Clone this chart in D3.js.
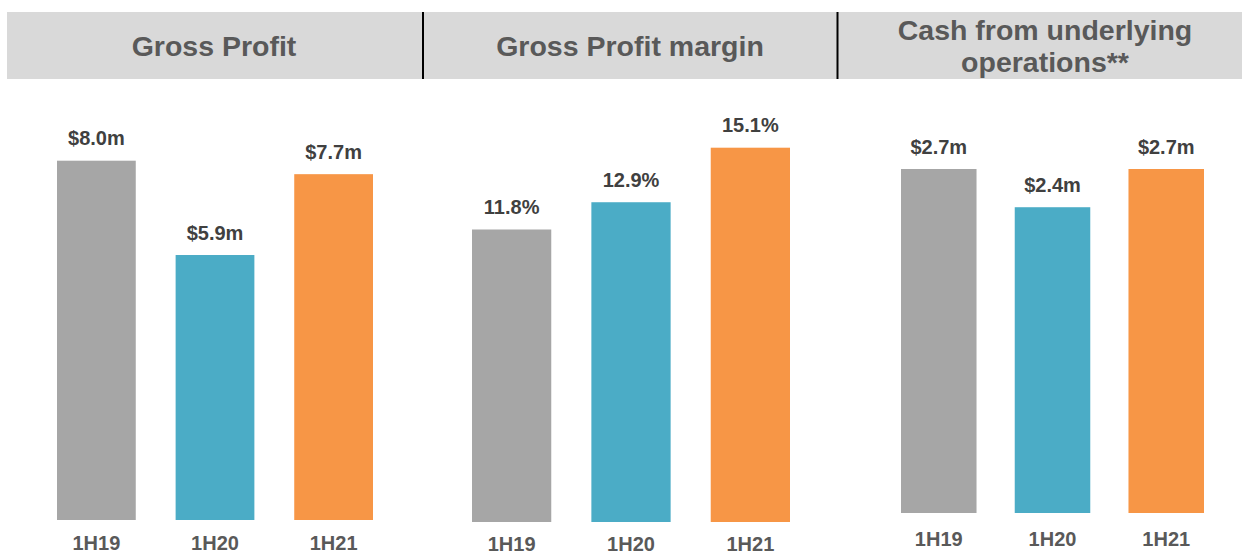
<!DOCTYPE html>
<html>
<head>
<meta charset="utf-8">
<script src="https://cdn.jsdelivr.net/npm/d3@7"></script>
<style>
	body { margin: 0; background: #fff; }
	svg text { font-family: "Liberation Sans", Arial, sans-serif; font-weight: bold; }
</style>
</head>
<body>
<svg id="chart" width="1242" height="554"></svg>
<script>
// values
const periods		= ["1H19", "1H20", "1H21"];
const grossProfit	= [8.0, 5.9, 7.7];
const grossMargin	= [11.8, 12.9, 15.1];
const cashOps		= [2.7, 2.4, 2.7];
const titles		= [["Gross Profit"], ["Gross Profit margin"], ["Cash from underlying", "operations**"]];
const barColors		= ["#a6a6a6", "#4bacc6", "#f79646"];

let svg = d3.select("#chart");

// header strip
svg.append("rect")
	.attr("x", 7).attr("y", 12)
	.attr("width", 1242 - 7).attr("height", 67)
	.attr("fill", "#d9d9d9");

[423, 837.5].forEach((x) => {
	svg.append("line")
		.attr("x1", x).attr("x2", x)
		.attr("y1", 12).attr("y2", 79)
		.attr("stroke", "#000").attr("stroke-width", 2);
});

// layout of each panel (pixels only, values come from the arrays above)
let panels = [
	{ values: grossProfit, fmt: (v) => "$" + v.toFixed(1) + "m", x0: 57, x1: 373, base: 520, top: 160.7, labelY: 549.5, titleX: 214, titleY: [56] },
	{ values: grossMargin, fmt: (v) => v.toFixed(1) + "%", x0: 472, x1: 790, base: 522, top: 147.7, labelY: 551, titleX: 630, titleY: [56] },
	{ values: cashOps, fmt: (v) => "$" + v.toFixed(1) + "m", x0: 901, x1: 1204, base: 513, top: 169, labelY: 546, titleX: 1045, titleY: [40, 72] }
];

panels.forEach((p, i) => {
	let data = periods.map((name, j) => ({ name: name, value: p.values[j], color: barColors[j] }));

	let x = d3.scaleBand()
		.domain(periods)
		.range([p.x0, p.x1])
		.paddingInner(0.336)
		.paddingOuter(0);

	let y = d3.scaleLinear()
		.domain([0, d3.max(p.values)])
		.range([p.base, p.top]);

	let g = svg.append("g").attr("class", "panel");

	titles[i].forEach((t, k) => {
		g.append("text")
			.attr("x", p.titleX)
			.attr("y", p.titleY[k])
			.attr("text-anchor", "middle")
			.attr("font-size", "28.5px")
			.attr("fill", "#595959")
			.text(t);
	});

	g.selectAll(".bar")
		.data(data)
		.enter().append("rect")
		.attr("class", "bar")
		.attr("x", (o) => x(o.name))
		.attr("y", (o) => y(o.value))
		.attr("width", x.bandwidth())
		.attr("height", (o) => y(0) - y(o.value))
		.attr("fill", (o) => o.color);

	g.selectAll(".val")
		.data(data)
		.enter().append("text")
		.attr("class", "val")
		.attr("x", (o) => x(o.name) + x.bandwidth() / 2)
		.attr("y", (o) => y(o.value) - 15.5)
		.attr("text-anchor", "middle")
		.attr("font-size", "20px")
		.attr("fill", "#404040")
		.text((o) => p.fmt(o.value));

	let axis = g.append("g")
		.attr("transform", "translate(0," + p.labelY + ")")
		.call(d3.axisBottom(x).tickSize(0).tickPadding(0));

	axis.select(".domain").remove();
	axis.selectAll("text")
		.attr("dy", 0)
		.attr("font-size", "20px")
		.attr("font-family", null)
		.attr("fill", "#595959");
});
</script>
</body>
</html>
